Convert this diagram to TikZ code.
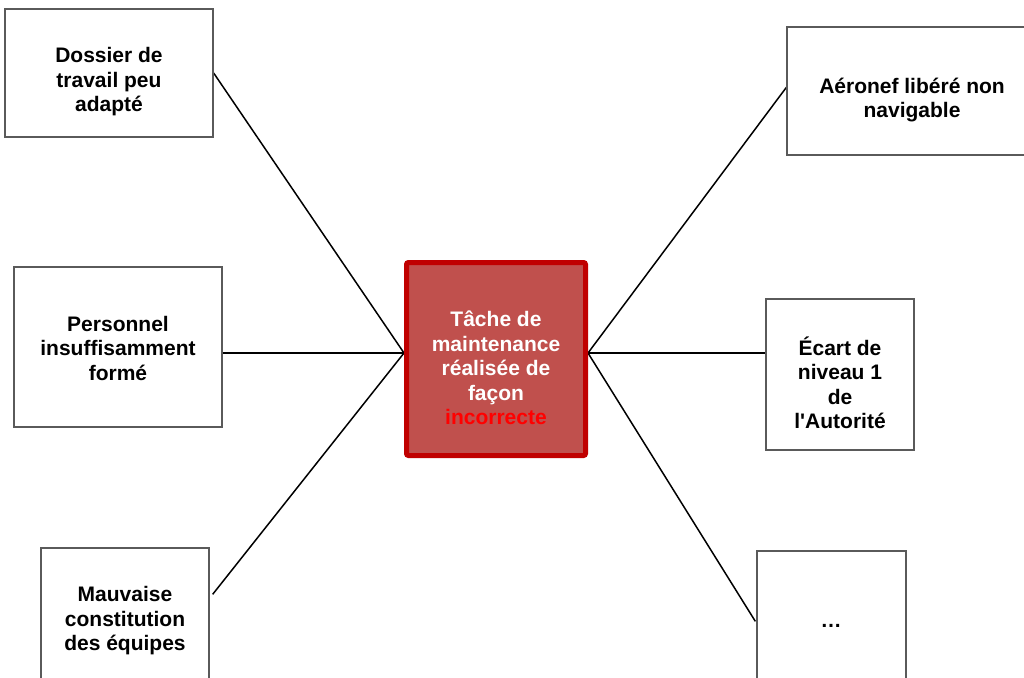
\documentclass[tikz,border=0pt]{standalone}
\usepackage{fontspec}
\setmainfont{Liberation Sans}
\usetikzlibrary{calc,backgrounds}
\definecolor{boxline}{RGB}{90,90,90}
\definecolor{taskfill}{RGB}{192,80,77}
\definecolor{taskline}{RGB}{192,0,0}
\definecolor{alertred}{RGB}{255,0,0}
% straight typewriter apostrophe, set as a glyph so no text mapping curls it
\newcommand{\straightquote}{\XeTeXglyph\XeTeXcharglyph"0027\relax}
\begin{document}
\begin{tikzpicture}[x=1pt,y=-1pt,
  causebox/.style={draw=boxline,line width=1.3pt,fill=white,inner sep=0pt},
  taskbox/.style={draw=taskline,line width=5pt,fill=taskfill,rounded corners=2pt,inner sep=0pt},
  caption/.style={align=center,font=\fontsize{21}{24.5}\selectfont\bfseries,inner sep=0pt},
  link/.style={draw=black,line width=1.5pt}]
\useasboundingbox (0,0) rectangle (1024,677);
\clip (0,0) rectangle (1024,677);

% cause boxes on the left
\node[causebox,minimum width=208pt,minimum height=128pt] (b1) at (109,73) {};
\node[causebox,minimum width=208pt,minimum height=160pt] (b2) at (118,347) {};
\node[causebox,minimum width=168pt,minimum height=152pt] (b3) at (125,624) {};
% consequence boxes on the right
\node[causebox,minimum width=253pt,minimum height=128pt] (b4) at (913.5,91) {};
\node[causebox,minimum width=148pt,minimum height=151pt] (b5) at (840,374.5) {};
\node[causebox,minimum width=149pt,minimum height=154pt] (b6) at (831.5,628) {};

% central task box
\node[taskbox,minimum width=179pt,minimum height=193pt] (c) at (496,359) {};
\coordinate (hubL) at ([yshift=6pt]c.west);
\coordinate (hubR) at ([yshift=6pt]c.east);

% connectors, kept behind the boxes
\begin{scope}[on background layer]
\draw[link] (b1.east) -- (hubL);
\draw[link] (b2.east |- hubL) -- (hubL);
\draw[link] ($(b3.north east)+(3,47)$) -- (hubL);
\draw[link] (hubR) -- ($(b4.north west)+(0,61)$);
\draw[link] (hubR) -- (b5.west |- hubR);
\draw[link] (hubR) -- ($(b6.north west)+(-1,71)$);
\end{scope}

% texts
\node[caption] (t1) at (109,82) {Dossier de\\travail peu\\adapté};
\node[caption] (t2) at (118,348) {Personnel\\insuffisamment\\formé};
\node[caption] (t3) at (125,621) {Mauvaise\\constitution\\des équipes};
\node[caption] (t4) at (912,100) {Aéronef libéré non\\navigable};
\node[caption] (t5) at (840,383) {Écart de\\niveau 1\\de\\l\straightquote Autorité};
\node[caption] (t6) at (831,626) {…};
\node[caption,text=white] (tc) at (496,368) {Tâche de\\maintenance\\réalisée de\\façon\\\textcolor{alertred}{incorrecte}};
\end{tikzpicture}
\end{document}
